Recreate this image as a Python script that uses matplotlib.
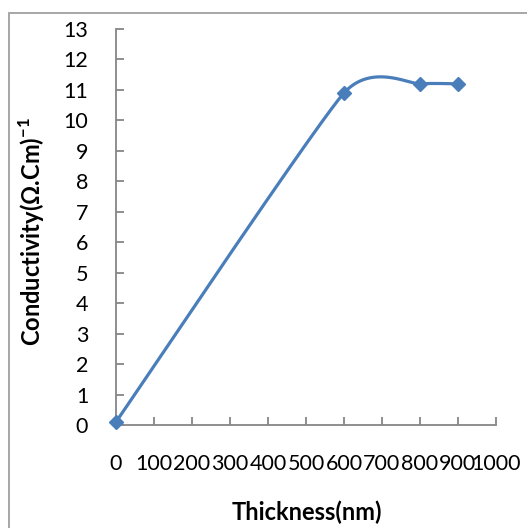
import numpy as np
import matplotlib
matplotlib.use("Agg")
import matplotlib.pyplot as plt
from matplotlib.patches import Rectangle

plt.rcParams['font.family'] = ['Lato', 'DejaVu Sans']
plt.rcParams['mathtext.fontset'] = 'custom'
plt.rcParams['mathtext.rm'] = 'Lato:bold'
plt.rcParams['mathtext.bf'] = 'Lato:bold'

thickness = [0, 600, 800, 900]
conductivity = [0.1, 10.9, 11.2, 11.2]
x_ticks = [0, 100, 200, 300, 400, 500, 600, 700, 800, 900, 1000]
y_ticks = list(range(0, 14))
x_label = "Thickness(nm)"
y_label = r"Conductivity(Ω.Cm)$^{\mathbf{-1}}$"

W, H = 527, 528
fig = plt.figure(figsize=(W / 100, H / 100), dpi=100)
ax = fig.add_axes([116 / W, 1 - 425 / H, 380 / W, 396 / H])

# Excel-style smoothed line (cardinal Bezier between data points)
def smooth(xs, ys, k=0.09, n=60):
    P = np.column_stack([xs, ys]).astype(float)
    m = len(P)
    out = []
    for i in range(m - 1):
        p0 = P[max(i - 1, 0)]
        p1 = P[i]
        p2 = P[i + 1]
        p3 = P[min(i + 2, m - 1)]
        c1 = p1 + (p2 - p0) * k
        c2 = p2 - (p3 - p1) * k
        t = np.linspace(0, 1, n)[:, None]
        seg = ((1 - t) ** 3) * p1 + 3 * ((1 - t) ** 2) * t * c1 + 3 * (1 - t) * t ** 2 * c2 + t ** 3 * p2
        out.append(seg if i == 0 else seg[1:])
    s = np.vstack(out)
    return s[:, 0], s[:, 1]

blue = '#4a7ebb'
sx, sy = smooth(thickness, conductivity)
ax.plot(sx, sy, color=blue, lw=2.3, solid_capstyle='round', clip_on=False, zorder=3)
ax.plot(thickness, conductivity, linestyle='none', marker='D', ms=6.8,
        color=blue, mec=blue, clip_on=False, zorder=4)

ax.set_xlim(0, 1000)
ax.set_ylim(0, 13)
ax.set_xticks(x_ticks)
ax.set_yticks(y_ticks)
ax.set_xticklabels([str(v) for v in x_ticks])
ax.set_yticklabels([str(v) for v in y_ticks])

gray = '#868686'
for s in ['top', 'right']:
    ax.spines[s].set_visible(False)
for s in ['left', 'bottom']:
    ax.spines[s].set_color(gray)
    ax.spines[s].set_linewidth(1.3)
ax.tick_params(axis='both', direction='in', length=6, width=1.3, color=gray,
               labelsize=15.5, labelcolor='black')
ax.tick_params(axis='y', pad=20)
ax.tick_params(axis='x', pad=21)

ax.set_xlabel(x_label, fontsize=17, fontweight='bold')
ax.set_ylabel(y_label, fontsize=17, fontweight='bold')
ax.xaxis.set_label_coords((307 - 116) / 380, (425 - 501) / 396)
ax.yaxis.set_label_coords((47 - 116) / 380, (425 - 232) / 396)

fig.patches.append(Rectangle((8.5 / W, -0.1), 1.2, (H - 13.5) / H + 0.1,
                             transform=fig.transFigure, fill=False,
                             edgecolor='#a0a0a0', lw=1.3, clip_on=False))

fig.savefig('out.png', dpi=100)
